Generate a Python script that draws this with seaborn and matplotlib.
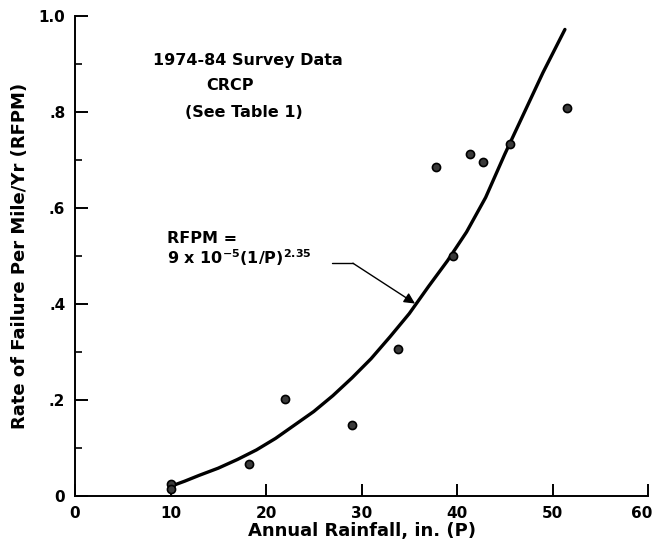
import numpy as np
import pandas as pd
import matplotlib
matplotlib.use("Agg")
import matplotlib.pyplot as plt
import matplotlib.transforms as mtransforms
from matplotlib.ticker import MultipleLocator, FixedLocator
import seaborn as sns

# ─── Data ─────────────────────────────────────────────────────────────────────
rain_obs = [10.0, 10.0, 18.2, 22.0, 29.0, 33.8, 37.8, 39.6, 41.4, 42.7, 45.6, 51.5]
rfpm_obs = [0.025, 0.015, 0.066, 0.203, 0.148, 0.306, 0.686, 0.500, 0.712, 0.695, 0.733, 0.808]

rain_fit = [10.0, 11.5, 13.0, 15.0, 17.0, 19.0, 21.0, 23.0, 25.0, 27.0, 29.0,
            31.0, 33.0, 35.0, 37.0, 39.0, 41.0, 43.0, 45.0, 47.0, 49.0, 51.3]
rfpm_fit = [0.020, 0.031, 0.043, 0.058, 0.076, 0.096, 0.120, 0.148, 0.176, 0.209, 0.246,
            0.286, 0.332, 0.380, 0.436, 0.490, 0.550, 0.622, 0.712, 0.797, 0.882, 0.972]

y_ticks = [0.0, 0.2, 0.4, 0.6, 0.8, 1.0]
y_tick_labels = ["0", ".2", ".4", ".6", ".8", "1.0"]
x_ticks = [0, 10, 20, 30, 40, 50, 60]

obs = pd.DataFrame({"rain": rain_obs, "rfpm": rfpm_obs})
fit = pd.DataFrame({"rain": rain_fit, "rfpm": rfpm_fit})

# ─── Style ────────────────────────────────────────────────────────────────────
sns.set_style("ticks")
plt.rcParams["font.family"] = ["DejaVu Sans"]
plt.rcParams["font.weight"] = "bold"
plt.rcParams["text.color"] = "black"
plt.rcParams["axes.labelcolor"] = "black"
plt.rcParams["xtick.color"] = "black"
plt.rcParams["ytick.color"] = "black"
plt.rcParams["axes.edgecolor"] = "black"
plt.rcParams["mathtext.fontset"] = "custom"
plt.rcParams["mathtext.rm"] = "DejaVu Sans:bold"
plt.rcParams["mathtext.bf"] = "DejaVu Sans:bold"
plt.rcParams["mathtext.it"] = "DejaVu Sans:bold"

fig = plt.figure(figsize=(6.56, 5.44), dpi=100)
ax = fig.add_axes([75 / 656, 48 / 544, 573 / 656, 480 / 544])

# ── Curve + points ───────────────────────────────────────────────────────────
sns.lineplot(data=fit, x="rain", y="rfpm", ax=ax, color="black", lw=2.4,
             sort=False)
sns.scatterplot(data=obs, x="rain", y="rfpm", ax=ax, s=34, color="#3a3a3a",
                edgecolor="black", linewidth=1.2, zorder=3)

# ── Axes ─────────────────────────────────────────────────────────────────────
ax.set_xlim(0, 60)
ax.set_ylim(0, 1.0)
ax.xaxis.set_major_locator(FixedLocator(x_ticks))
ax.yaxis.set_major_locator(FixedLocator(y_ticks))
ax.set_yticklabels(y_tick_labels)
ax.yaxis.set_minor_locator(MultipleLocator(0.1))
ax.tick_params(axis="both", which="major", direction="in", length=9, width=1.4,
               labelsize=11, pad=7)
ax.tick_params(axis="y", which="minor", direction="in", length=5, width=1.2)
ax.tick_params(axis="x", which="minor", length=0)
for lab in ax.get_xticklabels() + ax.get_yticklabels():
    lab.set_fontweight("bold")
# keep the "60" inside the canvas, as in the scan
last = ax.get_xticklabels()[-1]
last.set_transform(last.get_transform() +
                   mtransforms.ScaledTranslation(-6 / 100, 0, fig.dpi_scale_trans))
sns.despine(ax=ax)
ax.spines["left"].set_linewidth(1.4)
ax.spines["bottom"].set_linewidth(1.4)

ax.set_xlabel("Annual Rainfall, in. (P)", fontsize=13, fontweight="bold", labelpad=1)
ax.set_ylabel("Rate of Failure Per Mile/Yr (RFPM)", fontsize=13, fontweight="bold",
              labelpad=7)

# ── Labels ───────────────────────────────────────────────────────────────────
ax.text(18.1, 0.908, "1974-84 Survey Data", ha="center", va="center",
        fontsize=11.5, fontweight="bold")
ax.text(16.2, 0.856, "CRCP", ha="center", va="center", fontsize=11.5,
        fontweight="bold")
ax.text(17.7, 0.798, "(See Table 1)", ha="center", va="center", fontsize=11.5,
        fontweight="bold")

ax.text(9.6, 0.537, "RFPM =", ha="left", va="center", fontsize=11.5,
        fontweight="bold")
ax.text(9.6, 0.484, r"9 x 10$^{-5}$(1/P)$^{2.35}$", ha="left", va="baseline",
        fontsize=11.5, fontweight="bold")
ax.plot([26.9, 29.1], [0.485, 0.485], color="black", lw=1.0)
ax.annotate("", xy=(35.6, 0.401), xytext=(29.1, 0.485),
            arrowprops=dict(arrowstyle="-|>", color="black", lw=1.0,
                            mutation_scale=16, shrinkA=0, shrinkB=0))

fig.savefig("out.png", dpi=100)
